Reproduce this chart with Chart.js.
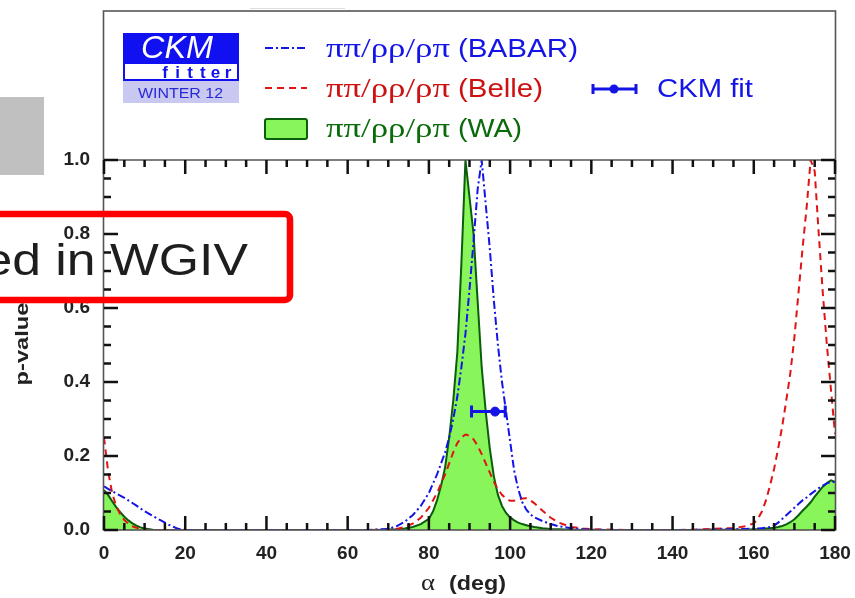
<!DOCTYPE html>
<html><head><meta charset="utf-8">
<script src="https://cdn.jsdelivr.net/npm/chart.js@4.4.1/dist/chart.umd.min.js"></script>
<style>html,body{margin:0;padding:0;background:#fff;overflow:hidden}canvas{display:block}</style>
</head><body>
<canvas id="c" width="855" height="598"></canvas>
<script>
// ---- data ----
const alphaDeg = [0,1,2,3,4,5,6,7,8,9,10,12,14,16,18,20,25,30,40,50,60,65,70,72,74,76,78,
  80,81,82,83,84,85,86,87,88,89,90,91,92,93,94,95,96,97,98,99,100,101,102,103,104,105,106,
  108,110,112,115,118,120,125,130,140,145,150,152,155,158,
  160,161,162,163,164,165,166,167,168,169,170,171,172,173,174,175,176,177,178,179,180];
const waPvalue = [0.108,0.095,0.078,0.062,0.048,0.036,0.026,0.018,0.012,0.007,0.004,
  0.001,0,0,0,0, 0,0,0,0,0,0,0.001, 0.002,0.004,0.008,0.016,
  0.03,0.05,0.08,0.12,0.17,0.25,0.35,0.48,0.72,1.0,0.9,0.8,0.62,0.44,0.32,0.22,0.145,0.095,0.065,0.046,0.034,0.026,0.02,0.016,0.013,0.01,0.008,
  0.005,0.003,0.002,0.001,0,0,0,0, 0,0,0.001,0.001,0.001,0.001,
  0.002,0.002,0.003,0.004,0.005,0.006,0.008,0.011,0.015,0.021,0.029,0.04,0.052,0.063,0.075,0.09,0.104,0.117,0.127,0.134,0.13];
const babarPvalue = [0.118,0.111,0.105,0.099,0.093,0.087,0.08,0.073,0.066,0.058,0.051,
  0.038,0.026,0.014,0.004,0, 0,0,0,0,0,0,0.003, 0.01,0.022,0.04,0.065,
  0.1,0.125,0.15,0.18,0.21,0.25,0.3,0.36,0.44,0.53,0.65,0.78,0.92,1.0,0.88,0.76,0.62,0.5,0.4,0.32,0.24,0.16,0.11,0.075,0.055,0.042,0.034,
  0.024,0.016,0.01,0.005,0.002,0.001,0,0, 0,0,0.001,0.002,0.002,0.003,
  0.004,0.004,0.005,0.006,0.008,0.012,0.02,0.03,0.04,0.05,0.06,0.07,0.08,0.088,0.097,0.105,0.113,0.12,0.126,0.13,0.13];
const bellePvalue = [0.25,0.16,0.1,0.065,0.042,0.027,0.017,0.01,0.006,0.003,0.001,
  0,0,0,0,0, 0,0,0,0,0,0,0.001, 0.003,0.008,0.017,0.033,
  0.06,0.08,0.1,0.125,0.15,0.18,0.21,0.235,0.25,0.258,0.255,0.245,0.228,0.205,0.18,0.155,0.13,0.11,0.095,0.085,0.079,0.079,0.082,0.085,0.086,0.08,0.072,
  0.052,0.033,0.02,0.008,0.004,0.002,0.001,0, 0,0.001,0.003,0.004,0.005,0.01,
  0.018,0.03,0.05,0.08,0.12,0.165,0.22,0.28,0.35,0.424,0.52,0.64,0.76,0.87,1.0,0.97,0.8,0.64,0.5,0.38,0.26];
const ckmFitAlpha = [96.3];
const ckmFitLow = [90.5];
const ckmFitHigh = [98.8];
const ckmFitY = [0.32];
const xTickValues = [0,20,40,60,80,100,120,140,160,180];
const yTickValues = [0,0.2,0.4,0.6,0.8,1.0];
const seriesGreek = 'ππ/ρρ/ρπ';
const seriesNames = ['(BABAR)', '(Belle)', '(WA)'];
const fitName = 'CKM fit';
const xTitleSym = 'α';
const xTitleUnit = '(deg)';
const yTitle = 'p-value';
const overlayText = 'ed in WGIV';

const BLUE = '#1414e6', RED = '#e01414', GREEN_LINE = '#0b5e0b', GREEN_FILL = '#88f55a';
const SANS = '"Liberation Sans", Arial, sans-serif';
const SERIF = '"Liberation Serif", "Times New Roman", serif';

function pts(arr) { return alphaDeg.map((a, i) => ({ x: a, y: arr[i] })); }

function stretchText(ctx, text, font, x, y, width, color, align) {
  ctx.save();
  ctx.font = font;
  const w = ctx.measureText(text).width;
  const s = width / w;
  ctx.fillStyle = color;
  ctx.textBaseline = 'alphabetic';
  ctx.textAlign = 'left';
  const x0 = align === 'right' ? x - width : (align === 'center' ? x - width / 2 : x);
  ctx.translate(x0, y);
  ctx.scale(s, 1);
  ctx.fillText(text, 0, 0);
  ctx.restore();
}

const decor = {
  id: 'decor',
  afterDatasetsDraw(chart) {
    const ctx = chart.ctx, xs = chart.scales.x, ys = chart.scales.y;
    ctx.save();
    ctx.strokeStyle = BLUE; ctx.lineWidth = 3;
    ckmFitAlpha.forEach((a, i) => {
      const y = ys.getPixelForValue(ckmFitY[i]);
      const x1 = xs.getPixelForValue(ckmFitLow[i]), x2 = xs.getPixelForValue(ckmFitHigh[i]);
      ctx.beginPath();
      ctx.moveTo(x1, y); ctx.lineTo(x2, y);
      ctx.moveTo(x1, y - 6); ctx.lineTo(x1, y + 6);
      ctx.moveTo(x2, y - 6); ctx.lineTo(x2, y + 6);
      ctx.stroke();
    });
    ctx.restore();
  },
  afterDraw(chart) {
    const ctx = chart.ctx, xs = chart.scales.x, ys = chart.scales.y, ca = chart.chartArea;
    ctx.save();
    // frame
    ctx.strokeStyle = '#555'; ctx.lineWidth = 1.6;
    ctx.strokeRect(ca.left - 0.5, 11, ca.right - ca.left + 1, ca.bottom - 11);
    ctx.beginPath(); ctx.moveTo(ca.left - 0.5, ca.top); ctx.lineTo(ca.right + 0.5, ca.top); ctx.stroke();
    ctx.strokeStyle = '#ddd'; ctx.lineWidth = 1;
    ctx.beginPath(); ctx.moveTo(250, 8.5); ctx.lineTo(345, 8.5); ctx.stroke();
    // ticks
    ctx.strokeStyle = '#111'; ctx.lineWidth = 2.5;
    ctx.beginPath();
    for (let v = 0; v <= 180; v += 5) {
      const L = v % 20 === 0 ? 14 : 7, x = xs.getPixelForValue(v);
      ctx.moveTo(x, ca.bottom); ctx.lineTo(x, ca.bottom - L);
      ctx.moveTo(x, ca.top); ctx.lineTo(x, ca.top + L);
    }
    for (let i = 0; i <= 20; i++) {
      const L = i % 4 === 0 ? 14 : 7, y = ys.getPixelForValue(i * 0.05);
      ctx.moveTo(ca.left, y); ctx.lineTo(ca.left + L, y);
      ctx.moveTo(ca.right, y); ctx.lineTo(ca.right - L, y);
    }
    ctx.stroke();

    // logo
    ctx.fillStyle = '#1010f0'; ctx.fillRect(123, 33, 116, 30);
    ctx.fillStyle = '#c8c8f0'; ctx.fillRect(123, 81, 116, 22);
    ctx.fillStyle = '#fff'; ctx.fillRect(124, 63, 114, 17);
    ctx.strokeStyle = '#1010f0'; ctx.lineWidth = 2; ctx.strokeRect(124, 63, 114, 17);
    stretchText(ctx, 'CKM', 'italic 31px ' + SANS, 177, 58, 72, '#fff', 'center');
    ctx.font = 'bold 17px ' + SANS; ctx.fillStyle = '#1010f0'; ctx.textAlign = 'center'; ctx.textBaseline = 'alphabetic';
    'fitter'.split('').forEach((ch, i) => ctx.fillText(ch, 165 + i * 12.6, 77.5));
    stretchText(ctx, 'WINTER 12', '14px ' + SANS, 138, 97.5, 85, '#2828d8', 'left');

    // legend
    const rows = [57, 97, 137];
    const cols = [BLUE, '#cc1111', '#0b6b0b'];
    const nameW = [120, 85, 64];
    rows.forEach((by, i) => {
      stretchText(ctx, seriesGreek, '27px ' + SERIF, 326, by, 124, cols[i], 'left');
      stretchText(ctx, seriesNames[i], '25px ' + SANS, 458, by, nameW[i], cols[i], 'left');
    });
    ctx.lineWidth = 2;
    ctx.strokeStyle = BLUE; ctx.setLineDash([8, 3, 2, 3]);
    ctx.beginPath(); ctx.moveTo(265, 48); ctx.lineTo(307, 48); ctx.stroke();
    ctx.strokeStyle = RED; ctx.setLineDash([7, 5]);
    ctx.beginPath(); ctx.moveTo(265, 88); ctx.lineTo(307, 88); ctx.stroke();
    ctx.setLineDash([]);
    ctx.fillStyle = GREEN_FILL; ctx.strokeStyle = GREEN_LINE;
    ctx.beginPath(); ctx.roundRect(265, 119, 42, 20, 2); ctx.fill(); ctx.stroke();
    ctx.strokeStyle = BLUE; ctx.lineWidth = 3;
    ctx.beginPath();
    ctx.moveTo(593, 89); ctx.lineTo(636, 89);
    ctx.moveTo(593, 84); ctx.lineTo(593, 94);
    ctx.moveTo(636, 84); ctx.lineTo(636, 94);
    ctx.stroke();
    ctx.fillStyle = BLUE; ctx.beginPath(); ctx.arc(614, 89, 4.5, 0, Math.PI * 2); ctx.fill();
    stretchText(ctx, fitName, '25px ' + SANS, 657, 97, 96, BLUE, 'left');

    // axis titles
    stretchText(ctx, xTitleSym, '24px ' + SERIF, 421, 590, 14, '#222', 'left');
    stretchText(ctx, xTitleUnit, 'bold 21px ' + SANS, 449, 590, 57, '#222', 'left');
    ctx.save();
    ctx.translate(28, 344);
    ctx.rotate(-Math.PI / 2);
    stretchText(ctx, yTitle, 'bold 19px ' + SANS, 0, 0, 83, '#222', 'center');
    ctx.restore();

    // slide overlays
    ctx.fillStyle = '#c0c0c0'; ctx.fillRect(0, 97, 44, 78);
    ctx.strokeStyle = '#ff0000'; ctx.lineWidth = 6.5;
    ctx.beginPath(); ctx.roundRect(-20, 214, 310, 86, 5); ctx.stroke();
    ctx.font = '44px ' + SANS;
    const s = 138 / ctx.measureText('WGIV').width;
    const full = ctx.measureText(overlayText).width * s;
    stretchText(ctx, overlayText, '44px ' + SANS, 248, 275, full, '#1e1e1e', 'right');
    ctx.restore();
  }
};

new Chart(document.getElementById('c'), {
  type: 'line',
  data: {
    datasets: [
      { label: 'CKM fit', data: ckmFitAlpha.map((a, i) => ({ x: a, y: ckmFitY[i] })), showLine: false,
        pointRadius: 4.5, pointBackgroundColor: BLUE, pointBorderColor: BLUE, order: 0 },
      { label: 'BABAR', data: pts(babarPvalue), borderColor: BLUE, borderWidth: 2, borderDash: [8, 3, 2, 3],
        fill: false, pointRadius: 0, tension: 0, order: 1 },
      { label: 'Belle', data: pts(bellePvalue), borderColor: RED, borderWidth: 2, borderDash: [7, 5],
        fill: false, pointRadius: 0, tension: 0, order: 2 },
      { label: 'WA', data: pts(waPvalue), borderColor: GREEN_LINE, borderWidth: 2, backgroundColor: GREEN_FILL,
        fill: 'origin', pointRadius: 0, tension: 0, order: 3 }
    ]
  },
  options: {
    responsive: false, animation: false, events: [],
    layout: { padding: { left: 0, top: 160, right: 20, bottom: 0 } },
    plugins: { legend: { display: false }, tooltip: { enabled: false } },
    scales: {
      x: {
        type: 'linear', min: 0, max: 180,
        afterFit: s => { s.height = 68; s.paddingLeft = 0; s.paddingRight = 0; },
        afterBuildTicks: s => { s.ticks = xTickValues.map(v => ({ value: v })); },
        grid: { display: false, drawTicks: false }, border: { display: false },
        ticks: { padding: 12, maxRotation: 0, autoSkip: false, color: '#222',
          font: { family: SANS, size: 19, weight: 'bold' } }
      },
      y: {
        type: 'linear', min: 0, max: 1,
        afterFit: s => { s.width = 104; },
        afterBuildTicks: s => { s.ticks = yTickValues.map(v => ({ value: v })); },
        grid: { display: false, drawTicks: false }, border: { display: false },
        ticks: { padding: 14, color: '#222', callback: v => v.toFixed(1),
          font: { family: SANS, size: 19, weight: 'bold' } }
      }
    }
  },
  plugins: [decor]
});
</script>
</body></html>
